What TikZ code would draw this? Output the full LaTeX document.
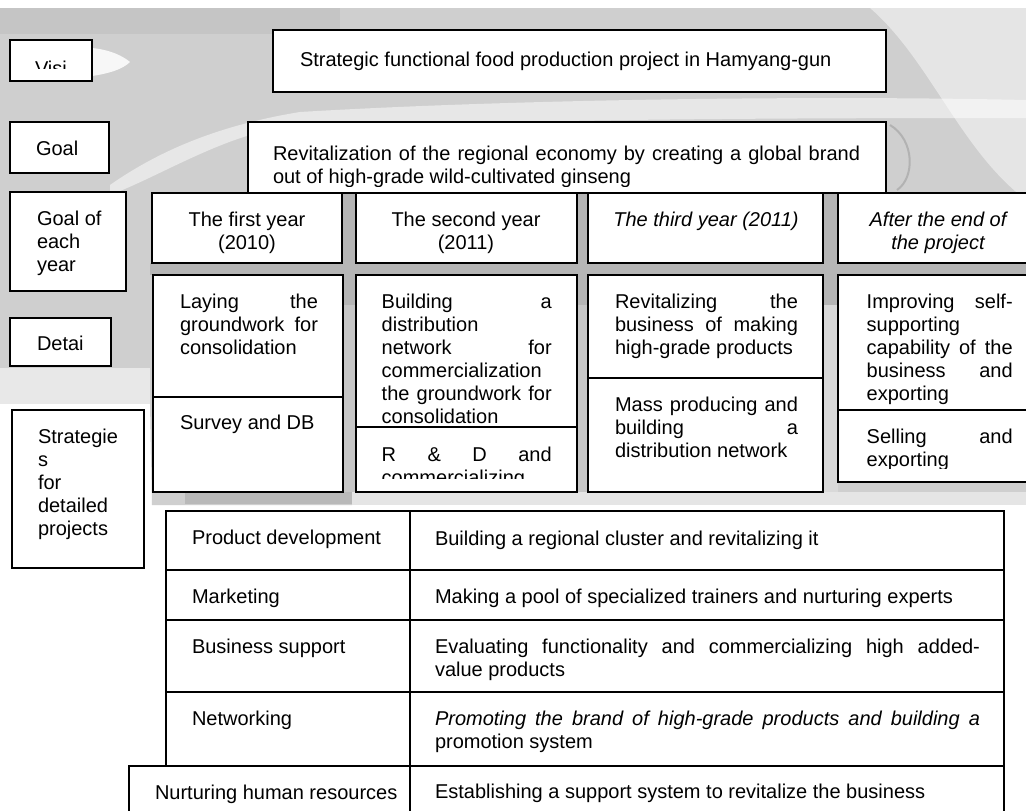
\documentclass[tikz,border=0pt]{standalone}
\usepackage{fontspec}
\setmainfont{Liberation Sans}
% a line spread to a given width (justified line)
\newcommand{\jst}[2]{\makebox[#1pt][s]{#2}}
% fixed first-line height, so that baseline = top + 16pt
\newcommand{\fl}{\rule{0pt}{16pt}}
% box node: style, name, x1, y1, x2, y2
\newcommand{\boxnode}[6]{%
  \node[#1, minimum width={(#5)-(#3)}, minimum height={(#6)-(#4)}] (#2) at (#3,#4) {};}
\begin{document}
\begin{tikzpicture}[x=1pt,y=-1pt,
  frame/.style={draw=black, line width=2.5pt, fill=white, inner sep=0pt, outer sep=0pt, anchor=north west},
  cell/.style={draw=black, line width=2pt, fill=white, inner sep=0pt, outer sep=0pt, anchor=north west},
  txt/.style={inner sep=0pt, outer sep=0pt, anchor=north west, align=left,
              font=\fontsize{20pt}{23pt}\selectfont},
  txti/.style={txt, font=\fontsize{20pt}{23pt}\selectfont\itshape},
  ]
\useasboundingbox (0,0) rectangle (1026,811);
\clip (0,0) rectangle (1026,811);

% ---- backdrop ----
\fill[white] (0,0) rectangle (1026,811);
\fill[gray!38] (0,8) -- (1026,8) -- (1026,492) -- (352,492) -- (352,505) -- (152,505)
  -- (150,404) -- (0,398) -- cycle;
\fill[gray!18] (0,368) rectangle (150,404);
\fill[gray!20] (352,492) rectangle (1026,505);
\fill[gray!55] (185,492) rectangle (352,504);
\fill[gray!50, opacity=.6] (0,8) rectangle (340,34);
\fill[gray!20] (870,8) .. controls (930,60) and (960,150) .. (1026,200) -- (1026,8) -- cycle;
% light swoosh
\fill[white, opacity=.85] (92,48) .. controls (112,50) and (124,57) .. (130,62)
  .. controls (122,70) and (106,74) .. (92,76) -- cycle;
\fill[white, opacity=.5] (110,185) .. controls (160,150) and (220,125) .. (300,112)
  .. controls (500,100) and (800,95) .. (1026,100) -- (1026,118)
  .. controls (700,118) and (400,120) .. (250,135)
  .. controls (200,150) and (150,180) .. (110,195) -- cycle;
\draw[gray!60, line width=2pt] (890,125) .. controls (915,140) and (915,178) .. (897,190);
% darker gaps between the yearly columns
\fill[gray!58] (150,263) rectangle (1026,275);
\fill[gray!58] (343,193) rectangle (356,305);
\fill[gray!58] (577,193) rectangle (588,305);
\fill[gray!58] (823,193) rectangle (838,305);
\fill[gray!45] (343,305) rectangle (356,492);
\fill[gray!45] (577,305) rectangle (588,492);
\fill[gray!30] (823,305) rectangle (838,492);

% ---- boxes ----
\boxnode{frame}{visiL}{10}{40}{92}{81}
\boxnode{frame}{visionB}{273}{30}{886}{92}
\boxnode{frame}{goalL}{10}{122}{109}{173}
\boxnode{frame}{goalB}{248}{122}{886}{193}
\boxnode{frame}{yearL}{10}{192}{126}{291}
\boxnode{frame}{hA}{152}{193}{342}{263}
\boxnode{frame}{hB}{356}{193}{577}{263}
\boxnode{frame}{hC}{588}{193}{823}{263}
\boxnode{frame}{hD}{838}{193}{1045}{263}
\boxnode{frame}{detL}{10}{318}{111}{366}
\boxnode{frame}{strL}{12}{410}{144}{568}
\boxnode{frame}{dA1}{153}{275}{343}{397}
\boxnode{frame}{dA2}{153}{397}{343}{492}
\boxnode{frame}{dB1}{356}{275}{577}{427}
\boxnode{frame}{dB2}{356}{427}{577}{492}
\boxnode{frame}{dC1}{588}{275}{823}{378}
\boxnode{frame}{dC2}{588}{378}{823}{492}
\boxnode{frame}{dD1}{838}{275}{1045}{410}
\boxnode{frame}{dD2}{838}{410}{1045}{482}
% strategy table
\boxnode{cell}{p1}{166}{511}{410}{570}
\boxnode{cell}{q1}{410}{511}{1004}{570}
\boxnode{cell}{p2}{166}{570}{410}{620}
\boxnode{cell}{q2}{410}{570}{1004}{620}
\boxnode{cell}{p3}{166}{620}{410}{692}
\boxnode{cell}{q3}{410}{620}{1004}{692}
\boxnode{cell}{p4}{166}{692}{410}{766}
\boxnode{cell}{q4}{410}{692}{1004}{766}
\boxnode{cell}{p5}{129}{766}{410}{822}
\boxnode{cell}{q5}{410}{766}{1004}{822}

% ---- row labels ----
\begin{scope}
  \clip (12,42) rectangle (90,68.5);
  \node[txt, anchor=base west] (visiT) at (35,75) {Visi};
\end{scope}
\node[txt, anchor=base west] (goalT) at (36,155) {Goal};
\node[txt] (yearT) at (37,209) {\fl Goal of\\each\\year};
\node[txt, anchor=base west] (detT) at (37,350) {Detai};
\node[txt] (strT) at (38,427) {\fl Strategie\\s\\for\\detailed\\projects};

% ---- vision and goal ----
\node[txt, anchor=base west] (visionT) at (300,66)
  {Strategic functional food production project in Hamyang-gun};
\begin{scope}
  \clip (250,124) rectangle (884,186);
  \node[txt] (goalTxt) at (273,144)
    {\fl\jst{587}{Revitalization of the regional economy by creating a global brand}\\
     out of high-grade wild-cultivated ginseng};
\end{scope}

% ---- yearly headers ----
\node[txt, anchor=north, align=center] (hAT) at (247,210) {\fl The first year\\(2010)};
\node[txt, anchor=north, align=center] (hBT) at (466,210) {\fl The second year\\(2011)};
\node[txti, anchor=base] (hCT) at (706,226) {The third year (2011)};
\node[txti, anchor=north, align=center] (hDT) at (938,210) {\fl After the end of\\the project};

% ---- yearly details ----
\node[txt] (dA1T) at (180,292)
  {\fl\jst{138}{Laying the}\\\jst{138}{groundwork for}\\consolidation};
\node[txt, anchor=base west] (dA2T) at (180,429) {Survey and DB};
\begin{scope}
  \clip (357,276) rectangle (576,426);
  \node[txt] (dB1T) at (381.7,292)
    {\fl\jst{170}{Building a}\\distribution\\\jst{170}{network for}\\commercialization\\
     \jst{170}{the groundwork for}\\consolidation};
\end{scope}
\begin{scope}
  \clip (357,428) rectangle (576,478);
  \node[txt] (dB2T) at (381.7,445) {\fl\jst{170}{R \& D and}\\commercializing};
\end{scope}
\node[txt] (dC1T) at (615,292)
  {\fl\jst{183}{Revitalizing the}\\\jst{183}{business of making}\\high-grade products};
\node[txt] (dC2T) at (615,395)
  {\fl\jst{183}{Mass producing and}\\\jst{183}{building a}\\distribution network};
\node[txt] (dD1T) at (866.7,292)
  {\fl\jst{146}{Improving self-}\\supporting\\\jst{146}{capability of the}\\
   \jst{146}{business and}\\exporting};
\begin{scope}
  \clip (839,411) rectangle (1026,468);
  \node[txt] (dD2T) at (866.7,427) {\fl\jst{146}{Selling and}\\exporting};
\end{scope}

% ---- strategy table texts ----
\node[txt, anchor=base west] (p1T) at (192,544) {Product development};
\node[txt, anchor=base west] (q1T) at (435,545) {Building a regional cluster and revitalizing it};
\node[txt, anchor=base west] (p2T) at (192,603) {Marketing};
\node[txt, anchor=base west] (q2T) at (435,603) {Making a pool of specialized trainers and nurturing experts};
\node[txt, anchor=base west] (p3T) at (192,653) {Business support};
\node[txt] (q3T) at (435,637)
  {\fl\jst{545}{Evaluating functionality and commercializing high added-}\\value products};
\node[txt, anchor=base west] (p4T) at (192,725) {Networking};
\node[txt] (q4T) at (435,709)
  {\fl\jst{545}{\itshape Promoting the brand of high-grade products and building a}\\promotion system};
\node[txt, anchor=base west] (p5T) at (155,799) {Nurturing human resources};
\node[txt, anchor=base west] (q5T) at (435,798) {Establishing a support system to revitalize the business};
\end{tikzpicture}
\end{document}
